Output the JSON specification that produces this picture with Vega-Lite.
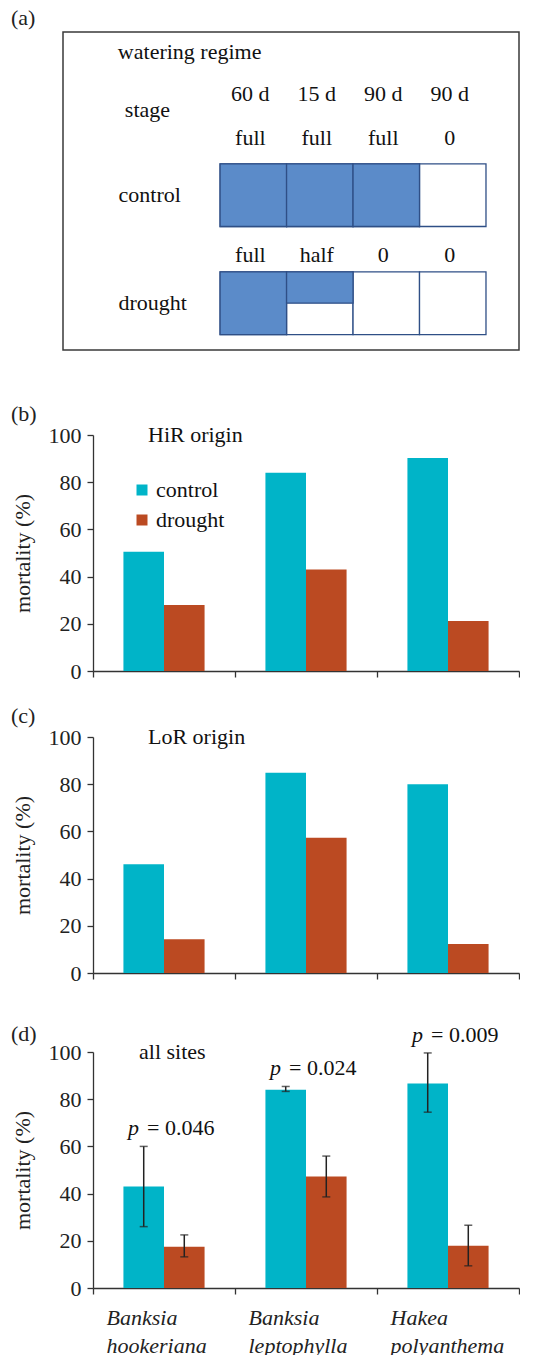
{
  "$schema": "https://vega.github.io/schema/vega-lite/v6.json",
  "padding": {"left": 10, "top": 6, "right": 0, "bottom": 0},
  "datasets": {
    "cells": [
      {"treatment": "control", "stage": "s1", "duration": "60 d", "level": "full", "water": 1},
      {"treatment": "control", "stage": "s2", "duration": "15 d", "level": "full", "water": 1},
      {"treatment": "control", "stage": "s3", "duration": "90 d", "level": "full", "water": 1},
      {"treatment": "control", "stage": "s4", "duration": "90 d", "level": "0", "water": 0},
      {"treatment": "drought", "stage": "s1", "duration": "60 d", "level": "full", "water": 1},
      {"treatment": "drought", "stage": "s2", "duration": "15 d", "level": "half", "water": 0.5},
      {"treatment": "drought", "stage": "s3", "duration": "90 d", "level": "0", "water": 0},
      {"treatment": "drought", "stage": "s4", "duration": "90 d", "level": "0", "water": 0}
    ],
    "hir": [
      {"species": "Banksia hookeriana", "treatment": "control", "mortality": 50.5},
      {"species": "Banksia hookeriana", "treatment": "drought", "mortality": 28},
      {"species": "Banksia leptophylla", "treatment": "control", "mortality": 84},
      {"species": "Banksia leptophylla", "treatment": "drought", "mortality": 43},
      {"species": "Hakea polyanthema", "treatment": "control", "mortality": 90.3},
      {"species": "Hakea polyanthema", "treatment": "drought", "mortality": 21.2}
    ],
    "lor": [
      {"species": "Banksia hookeriana", "treatment": "control", "mortality": 46.1},
      {"species": "Banksia hookeriana", "treatment": "drought", "mortality": 14.3},
      {"species": "Banksia leptophylla", "treatment": "control", "mortality": 84.8},
      {"species": "Banksia leptophylla", "treatment": "drought", "mortality": 57.3},
      {"species": "Hakea polyanthema", "treatment": "control", "mortality": 80},
      {"species": "Hakea polyanthema", "treatment": "drought", "mortality": 12.3}
    ],
    "all": [
      {"species": "Banksia hookeriana", "treatment": "control", "mortality": 43, "lo": 26, "hi": 60, "p": "= 0.046"},
      {"species": "Banksia hookeriana", "treatment": "drought", "mortality": 17.5, "lo": 13.2, "hi": 22.5, "p": ""},
      {"species": "Banksia leptophylla", "treatment": "control", "mortality": 84, "lo": 83.3, "hi": 85.4, "p": "= 0.024"},
      {"species": "Banksia leptophylla", "treatment": "drought", "mortality": 47.2, "lo": 38.6, "hi": 55.9, "p": ""},
      {"species": "Hakea polyanthema", "treatment": "control", "mortality": 86.6, "lo": 74.5, "hi": 99.6, "p": "= 0.009"},
      {"species": "Hakea polyanthema", "treatment": "drought", "mortality": 17.9, "lo": 9.4, "hi": 26.6, "p": ""}
    ]
  },
  "concat": [
    {
      "width": 456,
      "height": 318,
      "view": {"stroke": "#3a3a3a", "strokeWidth": 1.5},
      "title": {"text": "(a)", "dx": -52, "offset": 2},
      "data": {"name": "cells"},
      "encoding": {
        "x": {"field": "stage", "type": "nominal", "scale": {"domain": ["lbl", "s1", "s2", "s3", "s4"], "paddingInner": 0, "paddingOuter": 0.93, "align": 0.733}, "axis": null},
        "y": {"field": "treatment", "type": "nominal", "scale": {"domain": ["control", "drought"], "paddingInner": 0.42, "paddingOuter": 0.682, "align": 0.895},
              "axis": {"orient": "left", "offset": -55, "labelAlign": "left", "ticks": false, "tickSize": 0, "domain": false, "labelPadding": 0, "title": null, "labelColor": "#111"}}
      },
      "layer": [
        {"mark": {"type": "rect", "fill": "white", "stroke": "#2f4f86", "strokeWidth": 1.3}},
        {"transform": [{"filter": "datum.water == 1"}], "mark": {"type": "rect", "fill": "#5b8bc9", "stroke": "#2f4f86", "strokeWidth": 1.3}},
        {"transform": [{"filter": "datum.water == 0.5"}], "mark": {"type": "rect", "fill": "#5b8bc9", "stroke": "#2f4f86", "strokeWidth": 1.3},
         "encoding": {"yOffset": {"datum": "upper", "type": "nominal", "scale": {"domain": ["upper", "lower"], "paddingInner": 0, "paddingOuter": 0}}}},
        {"transform": [{"filter": "datum.treatment == 'control'"}], "mark": {"type": "text", "dx": -3, "dy": -70, "fontSize": 22, "baseline": "middle", "color": "#111"},
         "encoding": {"y": {"field": "treatment", "type": "nominal", "bandPosition": 0, "title": null}, "text": {"field": "duration"}}},
        {"transform": [{"filter": "datum.treatment == 'control'"}], "mark": {"type": "text", "dx": -3, "dy": -26, "fontSize": 22, "baseline": "middle", "color": "#111"},
         "encoding": {"y": {"field": "treatment", "type": "nominal", "bandPosition": 0, "title": null}, "text": {"field": "level"}}},
        {"transform": [{"filter": "datum.treatment == 'drought'"}], "mark": {"type": "text", "dx": -3, "dy": -17, "fontSize": 22, "baseline": "middle", "color": "#111"},
         "encoding": {"y": {"field": "treatment", "type": "nominal", "bandPosition": 0, "title": null}, "text": {"field": "level"}}},
        {"data": {"values": [{"label": "watering regime"}]}, "mark": {"type": "text", "align": "left", "baseline": "middle", "dx": -69, "dy": -143, "fontSize": 22, "color": "#111"},
         "encoding": {"x": {"datum": "lbl", "type": "nominal"}, "y": {"datum": "control", "type": "nominal"}, "text": {"field": "label"}}},
        {"data": {"values": [{"label": "stage"}]}, "mark": {"type": "text", "align": "left", "baseline": "middle", "dx": -62, "dy": -85, "fontSize": 22, "color": "#111"},
         "encoding": {"x": {"datum": "lbl", "type": "nominal"}, "y": {"datum": "control", "type": "nominal"}, "text": {"field": "label"}}}
      ]
    },
    {
      "concat": [
        {
          "concat": [
            {
              "data": {"name": "hir"},
              "width": 456,
              "height": 236,
              "title": {"text": "(b)", "offset": -2},
              "layer": [
                {"mark": {"type": "bar"},
                 "encoding": {
                   "x": {"field": "species", "type": "nominal", "sort": ["Banksia hookeriana", "Banksia leptophylla", "Hakea polyanthema"], "scale": {"range": [30, 456], "paddingInner": 0, "paddingOuter": 0},
                         "axis": {"title": null, "labels": false, "tickBand": "extent", "tickSize": 6}},
                   "xOffset": {"field": "treatment", "type": "nominal", "sort": ["control", "drought"], "scale": {"paddingInner": 0, "paddingOuter": 0.75}},
                   "y": {"field": "mortality", "type": "quantitative", "scale": {"domain": [0, 100]}, "axis": {"values": [0, 20, 40, 60, 80, 100], "title": "mortality (%)", "offset": -30, "tickSize": 6, "labelPadding": 6, "titlePadding": 14, "grid": false}},
                   "color": {"field": "treatment", "type": "nominal", "scale": {"domain": ["control", "drought"], "range": ["#00b4c8", "#bb4a22"]},
                             "legend": {"orient": "none", "legendX": 68, "legendY": 44, "title": null, "symbolType": "square", "symbolSize": 121, "symbolStrokeWidth": 0, "labelFontSize": 22, "labelFont": "Liberation Serif", "labelColor": "#111", "labelOffset": 3, "rowPadding": 8, "padding": 0}}
                 }},
                {"data": {"values": [{"label": "HiR origin"}]},
                 "mark": {"type": "text", "align": "left", "baseline": "middle", "dx": -16, "fontSize": 22, "color": "#111"},
                 "encoding": {"x": {"datum": "Banksia hookeriana", "type": "nominal"}, "y": {"datum": 100, "type": "quantitative"}, "text": {"field": "label"}}}
              ]
            },
            {
              "data": {"name": "lor"},
              "width": 456,
              "height": 236,
              "title": {"text": "(c)", "offset": -2},
              "layer": [
                {"mark": {"type": "bar"},
                 "encoding": {
                   "x": {"field": "species", "type": "nominal", "sort": ["Banksia hookeriana", "Banksia leptophylla", "Hakea polyanthema"], "scale": {"range": [30, 456], "paddingInner": 0, "paddingOuter": 0},
                         "axis": {"title": null, "labels": false, "tickBand": "extent", "tickSize": 6}},
                   "xOffset": {"field": "treatment", "type": "nominal", "sort": ["control", "drought"], "scale": {"paddingInner": 0, "paddingOuter": 0.75}},
                   "y": {"field": "mortality", "type": "quantitative", "scale": {"domain": [0, 100]}, "axis": {"values": [0, 20, 40, 60, 80, 100], "title": "mortality (%)", "offset": -30, "tickSize": 6, "labelPadding": 6, "titlePadding": 14, "grid": false}},
                   "color": {"field": "treatment", "type": "nominal", "scale": {"domain": ["control", "drought"], "range": ["#00b4c8", "#bb4a22"]}, "legend": null}
                 }},
                {"data": {"values": [{"label": "LoR origin"}]},
                 "mark": {"type": "text", "align": "left", "baseline": "middle", "dx": -16, "fontSize": 22, "color": "#111"},
                 "encoding": {"x": {"datum": "Banksia hookeriana", "type": "nominal"}, "y": {"datum": 100, "type": "quantitative"}, "text": {"field": "label"}}}
              ]
            }
          ],
          "columns": 1,
          "spacing": 23,
          "resolve": {"scale": {"color": "independent"}, "legend": {"color": "independent"}}
        },
        {
          "data": {"name": "all"},
          "width": 456,
          "height": 236,
          "title": {"text": "(d)", "offset": -22},
          "layer": [
            {"mark": {"type": "bar"},
             "encoding": {
               "x": {"field": "species", "type": "nominal", "sort": ["Banksia hookeriana", "Banksia leptophylla", "Hakea polyanthema"], "scale": {"range": [30, 456], "paddingInner": 0, "paddingOuter": 0},
                     "axis": {"title": null, "tickBand": "extent", "tickSize": 6, "labelAngle": 0, "labelExpr": "split(datum.label, ' ')", "labelFontStyle": "italic", "labelLineHeight": 28, "labelPadding": 13, "labelBaseline": "top", "labelAlign": "left", "labelOffset": -58}},
               "xOffset": {"field": "treatment", "type": "nominal", "sort": ["control", "drought"], "scale": {"paddingInner": 0, "paddingOuter": 0.75}},
               "y": {"field": "mortality", "type": "quantitative", "scale": {"domain": [0, 100]}, "axis": {"values": [0, 20, 40, 60, 80, 100], "title": "mortality (%)", "offset": -30, "tickSize": 6, "labelPadding": 6, "titlePadding": 14, "grid": false}},
               "color": {"field": "treatment", "type": "nominal", "scale": {"domain": ["control", "drought"], "range": ["#00b4c8", "#bb4a22"]}, "legend": null}
             }},
            {"mark": {"type": "rule", "color": "#222", "strokeWidth": 1.5},
             "encoding": {
               "x": {"field": "species", "type": "nominal", "sort": ["Banksia hookeriana", "Banksia leptophylla", "Hakea polyanthema"]},
               "xOffset": {"field": "treatment", "type": "nominal", "sort": ["control", "drought"]},
               "y": {"field": "lo", "type": "quantitative"},
               "y2": {"field": "hi"}
             }},
            {"mark": {"type": "tick", "color": "#222", "thickness": 1.5, "size": 8},
             "encoding": {
               "x": {"field": "species", "type": "nominal", "sort": ["Banksia hookeriana", "Banksia leptophylla", "Hakea polyanthema"]},
               "xOffset": {"field": "treatment", "type": "nominal", "sort": ["control", "drought"]},
               "y": {"field": "lo", "type": "quantitative"}
             }},
            {"mark": {"type": "tick", "color": "#222", "thickness": 1.5, "size": 8},
             "encoding": {
               "x": {"field": "species", "type": "nominal", "sort": ["Banksia hookeriana", "Banksia leptophylla", "Hakea polyanthema"]},
               "xOffset": {"field": "treatment", "type": "nominal", "sort": ["control", "drought"]},
               "y": {"field": "hi", "type": "quantitative"}
             }},
            {"transform": [{"filter": "datum.treatment == 'control'"}],
             "mark": {"type": "text", "align": "right", "baseline": "middle", "dx": -25, "dy": -18, "fontSize": 22, "fontStyle": "italic", "color": "#111"},
             "encoding": {
               "x": {"field": "species", "type": "nominal", "sort": ["Banksia hookeriana", "Banksia leptophylla", "Hakea polyanthema"]},
               "y": {"field": "hi", "type": "quantitative"},
               "text": {"value": "p"}
             }},
            {"transform": [{"filter": "datum.treatment == 'control'"}],
             "mark": {"type": "text", "align": "left", "baseline": "middle", "dx": -17, "dy": -18, "fontSize": 22, "color": "#111"},
             "encoding": {
               "x": {"field": "species", "type": "nominal", "sort": ["Banksia hookeriana", "Banksia leptophylla", "Hakea polyanthema"]},
               "y": {"field": "hi", "type": "quantitative"},
               "text": {"field": "p"}
             }},
            {"data": {"values": [{"label": "all sites"}]},
             "mark": {"type": "text", "align": "left", "baseline": "middle", "dx": -25, "fontSize": 22, "color": "#111"},
             "encoding": {"x": {"datum": "Banksia hookeriana", "type": "nominal"}, "y": {"datum": 100, "type": "quantitative"}, "text": {"field": "label"}}}
          ]
        }
      ],
      "columns": 1,
      "spacing": 38,
      "resolve": {"scale": {"color": "independent"}, "legend": {"color": "independent"}}
    }
  ],
  "columns": 1,
  "spacing": 52,
  "resolve": {"scale": {"color": "independent"}, "legend": {"color": "independent"}},
  "config": {
    "font": "Liberation Serif",
    "view": {"stroke": null},
    "axis": {"labelFont": "Liberation Serif", "labelFontSize": 22, "labelColor": "#222", "titleFont": "Liberation Serif", "titleFontSize": 22, "titleFontWeight": "normal", "titleColor": "#222", "domainColor": "#333", "tickColor": "#333", "domainWidth": 1.3, "tickWidth": 1.3},
    "title": {"font": "Liberation Serif", "fontSize": 22, "fontWeight": "normal", "anchor": "start", "frame": "group", "dx": -52, "color": "#222"},
    "text": {"font": "Liberation Serif"}
  }
}
